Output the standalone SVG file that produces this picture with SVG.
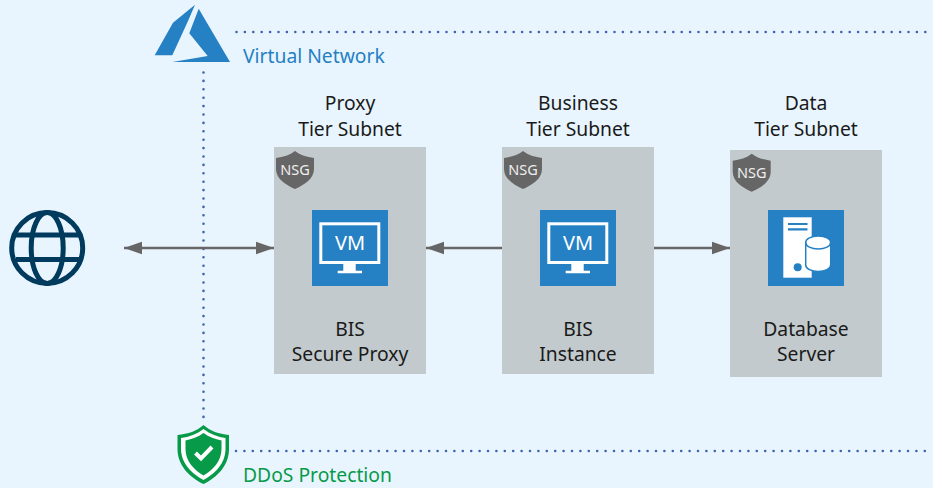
<svg xmlns="http://www.w3.org/2000/svg" width="933" height="488" viewBox="0 0 933 488">
<style>
text{font-family:"Noto Sans","Open Sans",sans-serif}
.l{font-size:19.300px;fill:#1a1a1a;text-anchor:middle}
.box{fill:#c2cacd}
.tile{fill:#2580c4}
.nsg{fill:#666}
.nt{font-size:14.500px;fill:#eee;text-anchor:middle}
.dot{fill:none;stroke:#3f63ad;stroke-width:2.600;stroke-linecap:round;stroke-dasharray:0 8.400}
.c{fill:none;stroke:#666;stroke-width:2.600}
.ln{fill:none;stroke:#2580c4;stroke-width:1.500}
</style>
<defs>
<marker id="a" markerUnits="userSpaceOnUse" markerWidth="20" markerHeight="14" refX="18" refY="7" orient="auto-start-reverse"><path d="M0 .8L18 7L0 13.200Z" fill="#666"/></marker>
<path id="sh" d="M19 0C24 4 31 6 38 7V18C38 28 28 34 19 38C10 34 0 28 0 18V7C7 6 14 4 19 0Z"/>
<g id="vm"><rect class="tile" width="76" height="76"/>
<rect x="8.800" y="13.800" width="58" height="38.700" fill="none" stroke="#fff" stroke-width="3"/>
<path d="M31.300 54H43.700V60.700H50V63.300H25.700V60.700H31.300Z" fill="#fff"/>
<text x="38" y="40" font-size="20" fill="#fff" text-anchor="middle">VM</text></g>
</defs>
<rect width="933" height="488" fill="#e8f5fe"/>
<g id="connectors">
<path class="dot" d="M236.500 32H933"/>
<path class="dot" d="M203.500 72.500V424"/>
<path class="dot" d="M236 451H933"/>
<path class="c" d="M124 248H274" marker-start="url(#a)" marker-end="url(#a)"/>
<path class="c" d="M502 248H426" marker-end="url(#a)"/>
<path class="c" d="M654 248H730" marker-end="url(#a)"/>
</g>
<g id="azure"><path d="M195 4.700L173 22.700L154.700 55.300H172.300L188 21Z M198.700 8.700L189.300 33.300L207.700 56L172.300 62L230 62Z" fill="#2580c4"/>
<text x="243" y="63" font-size="19.300" fill="#2580c4">Virtual Network</text></g>
<g id="internet" fill="none" stroke="#003a5c" stroke-width="5">
<circle cx="47.200" cy="248" r="35.500"/><ellipse cx="47.200" cy="248" rx="16" ry="35.500"/>
<path d="M16 235H79M16 259.500H79"/></g>
<g id="proxy">
<text class="l" x="350" y="110">Proxy</text><text class="l" x="350" y="136">Tier Subnet</text>
<rect class="box" x="274" y="147" width="152" height="227"/>
<use href="#sh" class="nsg" x="276" y="151"/><text class="nt" x="295" y="175">NSG</text>
<use href="#vm" x="312" y="210"/>
<text class="l" x="350" y="336">BIS</text><text class="l" x="350" y="361">Secure Proxy</text>
</g>
<g id="business">
<text class="l" x="578" y="110">Business</text><text class="l" x="578" y="136">Tier Subnet</text>
<rect class="box" x="502" y="147" width="152" height="227"/>
<use href="#sh" class="nsg" x="504" y="151"/><text class="nt" x="523" y="175">NSG</text>
<use href="#vm" x="540" y="210"/>
<text class="l" x="578" y="336">BIS</text><text class="l" x="578" y="361">Instance</text>
</g>
<g id="data">
<text class="l" x="806" y="110">Data</text><text class="l" x="806" y="136">Tier Subnet</text>
<rect class="box" x="730" y="150" width="152" height="227"/>
<use href="#sh" class="nsg" x="732.700" y="153.700"/><text class="nt" x="751.700" y="177.500">NSG</text>
<rect class="tile" x="768" y="210" width="76" height="76"/>
<rect x="783.300" y="217.300" width="28.400" height="60.400" fill="#fff"/>
<path d="M788 224H807.500M788 229.400H807.500" stroke="#2580c4" stroke-width="2.200"/>
<circle cx="797.700" cy="267.300" r="4" fill="#2580c4"/>
<path d="M805.700 242.500A12.500 6.500 0 0 1 830.700 242.500V265A12.500 6.500 0 0 1 805.700 265Z" fill="#fff" stroke="#2580c4" stroke-width="1.500"/>
<path class="ln" d="M805.700 242.500A12.500 6.500 0 0 0 830.700 242.500"/>
<text class="l" x="806" y="336">Database</text><text class="l" x="806" y="361">Server</text>
</g>
<g id="ddos">
<path d="M203.500 425C210 431 219 434 229 435V449C229 465 218 477 203.500 484C189 477 177.500 465 177.500 449V435C188 434 197 431 203.500 425Z" fill="#069a49"/>
<path d="M203.500 429C210 434 218 437 225.500 438V449C225.500 463 215 474 203.500 480C192 474 181 463 181 449V438C189 437 197 434 203.500 429Z" fill="#fff"/>
<path d="M203.500 433C209 437 215 439 221.500 440.500V449C221.500 461 213 470 203.500 475.500C194 470 185.500 461 185.500 449V440.500C192 439 198 437 203.500 433Z" fill="#069a49"/>
<path d="M195.500 453L201 458.500L212 447" fill="none" stroke="#fff" stroke-width="4"/>
<text x="243" y="482.300" font-size="19.300" fill="#069a49">DDoS Protection</text></g>
</svg>
